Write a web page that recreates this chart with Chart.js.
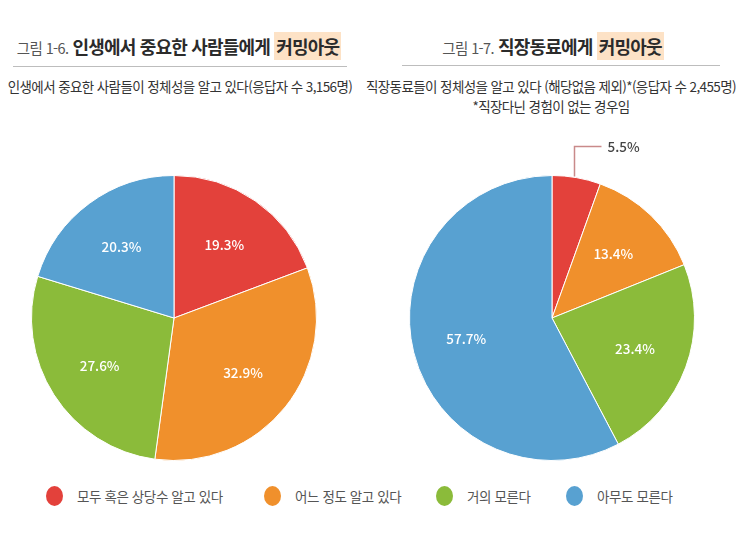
<!DOCTYPE html>
<html lang="ko">
<head>
<meta charset="utf-8">
<script src="https://cdn.jsdelivr.net/npm/chart.js@4.4.0/dist/chart.umd.min.js"></script>
<style>
  body { margin: 0; background: #fff; font-family: "Noto Sans CJK KR", "Noto Sans", sans-serif; }
  #wrap { position: relative; width: 750px; height: 542px; overflow: hidden; }
  .abs { position: absolute; white-space: nowrap; }
  .title { top: 33px; font-size: 18px; font-weight: 700; color: #2b2b2b; text-align: center; letter-spacing: -0.8px; }
  .title .fig { font-size: 14.5px; font-weight: 400; color: #555; margin-right: 4px; letter-spacing: -0.6px; }
  .title .hl { background: #fde2c6; padding: 1px 2px; }
  .rule { height: 1px; background: #bdbdbd; }
  .sub { font-size: 13.5px; color: #333; text-align: center; letter-spacing: -0.6px; }
  canvas { position: absolute; }
  .leg { top: 486px; font-size: 13.5px; color: #555; display: flex; align-items: center; letter-spacing: -0.4px; }
  .leg i { display: inline-block; width: 17px; height: 20px; border-radius: 50%; margin-right: 14px; }
</style>
</head>
<body>
<div id="wrap">
  <div class="abs title" style="left:0;width:358px;"><span class="fig">그림 1-6.</span>인생에서 중요한 사람들에게 <span class="hl">커밍아웃</span></div>
  <div class="abs rule" style="left:13px;top:66px;width:334px;"></div>
  <div class="abs sub" style="left:0;width:360px;top:76px;">인생에서 중요한 사람들이 정체성을 알고 있다(응답자 수 3,156명)</div>

  <div class="abs title" style="left:400px;width:306px;"><span class="fig">그림 1-7.</span>직장동료에게 <span class="hl">커밍아웃</span></div>
  <div class="abs rule" style="left:402px;top:65px;width:318px;"></div>
  <div class="abs sub" style="left:360px;width:382px;top:76px;">직장동료들이 정체성을 알고 있다 (해당없음 제외)*(응답자 수 2,455명)</div>
  <div class="abs sub" style="left:360px;width:382px;top:96px;">*직장다닌 경험이 없는 경우임</div>

  <canvas id="pie1" width="300" height="340" style="left:24px;top:128px;"></canvas>
  <canvas id="pie2" width="300" height="340" style="left:402px;top:128px;"></canvas>

  <div id="legend"></div>
</div>
<script>
const categories = ['모두 혹은 상당수 알고 있다', '어느 정도 알고 있다', '거의 모른다', '아무도 모른다'];
const importantPeople = [19.3, 32.9, 27.6, 20.3];
const coworkers = [5.5, 13.4, 23.4, 57.7];
const colors = ['#e3413b', '#f0902c', '#8bbb3a', '#58a1d1'];
const legendX = [46, 264, 436, 566];

// legend
const legend = document.getElementById('legend');
categories.forEach((c, i) => {
  const d = document.createElement('div');
  d.className = 'abs leg';
  d.style.left = legendX[i] + 'px';
  d.innerHTML = '<i style="background:' + colors[i] + '"></i>' + c;
  legend.appendChild(d);
});

// percentage labels on slices, small ones get a leader line
const sliceLabels = {
  id: 'sliceLabels',
  afterDatasetsDraw(chart) {
    const ctx = chart.ctx;
    const meta = chart.getDatasetMeta(0);
    const data = chart.data.datasets[0].data;
    ctx.save();
    ctx.font = '500 13.5px "Noto Sans CJK KR", sans-serif';
    ctx.textBaseline = 'middle';
    meta.data.forEach((arc, i) => {
      const p = arc.getProps(['x', 'y', 'startAngle', 'endAngle', 'outerRadius'], true);
      const mid = (p.startAngle + p.endAngle) / 2;
      const txt = data[i].toFixed(1) + '%';
      if (data[i] < 8) {
        const ex = p.x + Math.cos(mid) * p.outerRadius;
        const ey = p.y + Math.sin(mid) * p.outerRadius;
        ctx.strokeStyle = '#c98a8a';
        ctx.lineWidth = 1.5;
        ctx.beginPath();
        ctx.moveTo(ex - 2, ey - 1);
        ctx.lineTo(ex - 2, ey - 31);
        ctx.lineTo(ex + 25, ey - 31);
        ctx.stroke();
        ctx.fillStyle = '#444';
        ctx.textAlign = 'left';
        ctx.fillText(txt, ex + 31, ey - 31);
      } else {
        const r = p.outerRadius * 0.62;
        ctx.fillStyle = '#fff';
        ctx.textAlign = 'center';
        ctx.fillText(txt, p.x + Math.cos(mid) * r, p.y + Math.sin(mid) * r);
      }
    });
    ctx.restore();
  }
};

function makePie(id, values) {
  return new Chart(document.getElementById(id), {
    type: 'pie',
    data: {
      labels: categories,
      datasets: [{
        data: values,
        backgroundColor: colors,
        borderColor: '#ffffff',
        borderWidth: 1
      }]
    },
    options: {
      responsive: false,
      animation: false,
      layout: { padding: { top: 47, bottom: 7, left: 7, right: 7 } },
      plugins: { legend: { display: false }, tooltip: { enabled: false } }
    },
    plugins: [sliceLabels]
  });
}

makePie('pie1', importantPeople);
makePie('pie2', coworkers);
</script>
</body>
</html>
